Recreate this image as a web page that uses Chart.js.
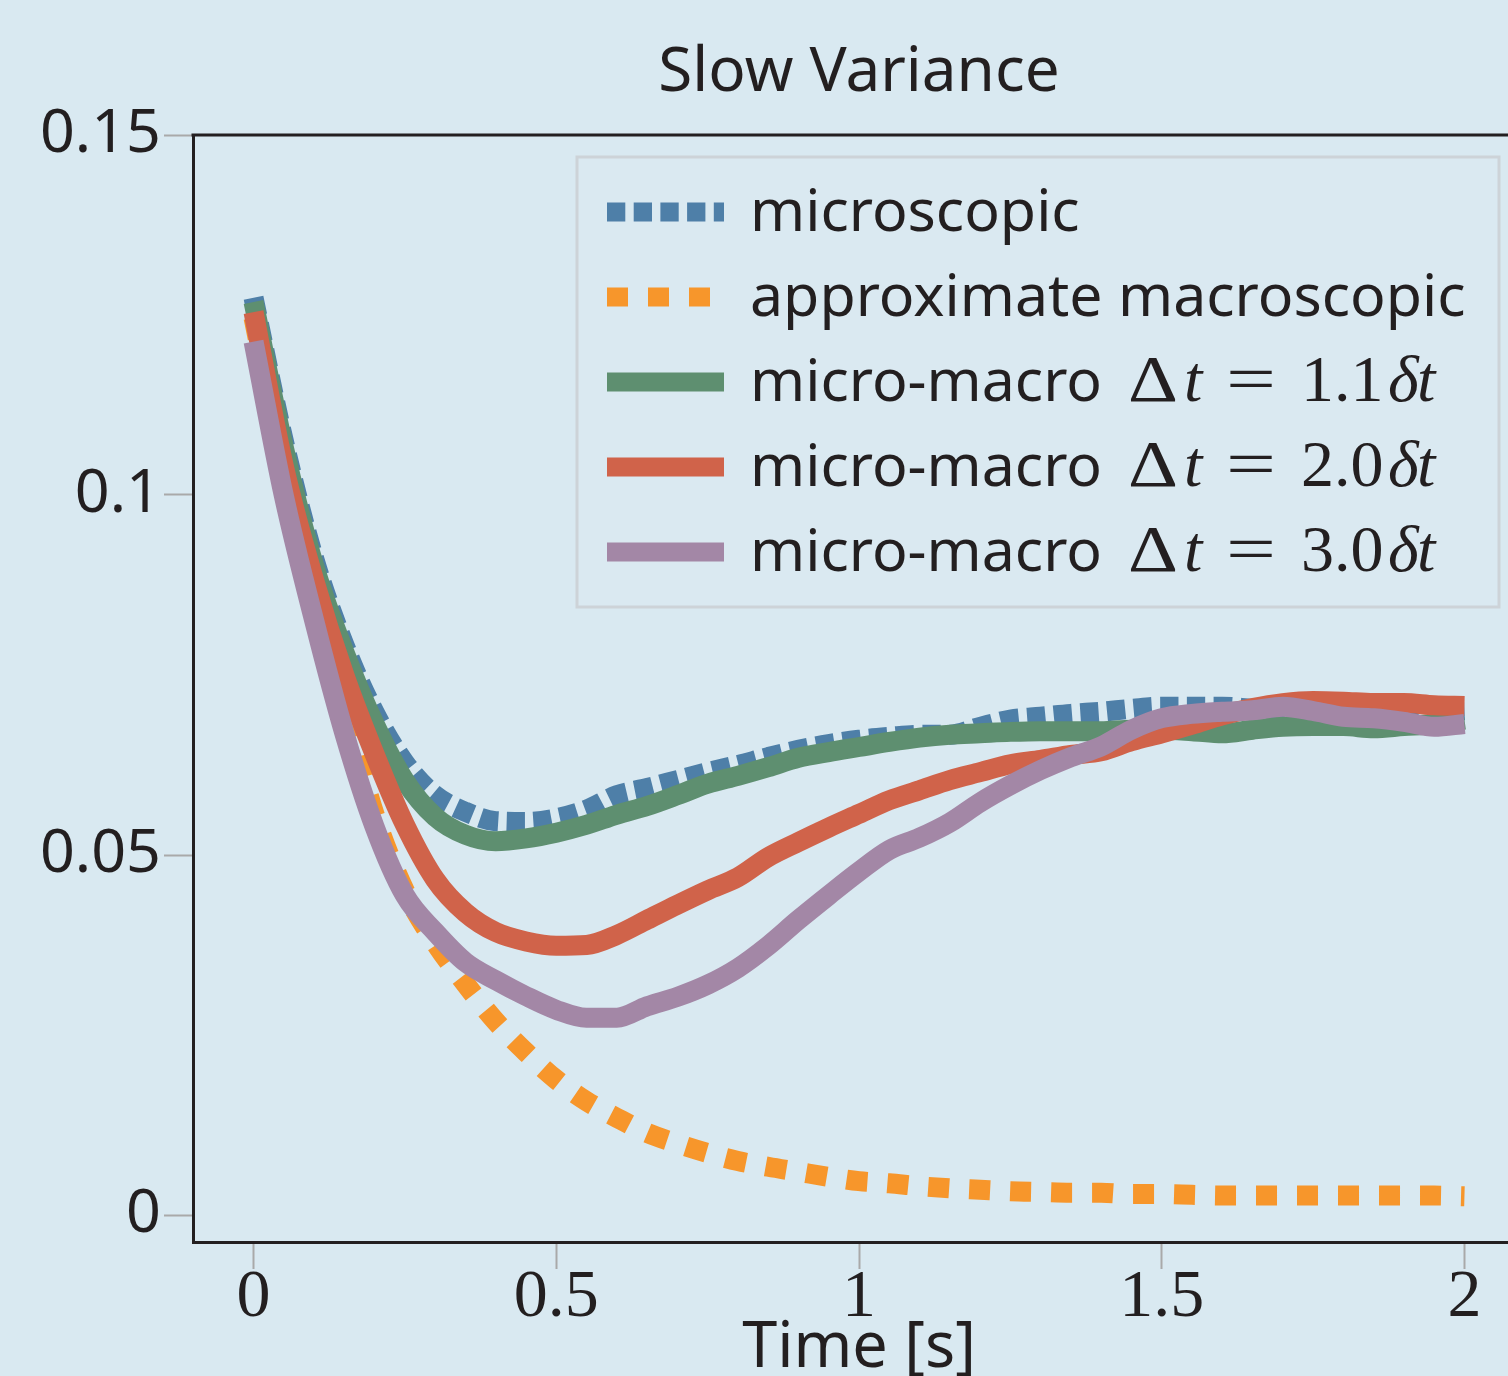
<!DOCTYPE html>
<html><head><meta charset="utf-8">
<script src="https://cdn.jsdelivr.net/npm/chart.js@4/dist/chart.umd.min.js"></script>
<style>
html,body{margin:0;padding:0;background:#d9e9f1;overflow:hidden;}
canvas{display:block;}
</style></head><body>
<canvas id="c" width="1530" height="1376"></canvas>
<script>
// ---- data ----
const times = [0,0.05,0.1,0.15,0.2,0.25,0.3,0.35,0.4,0.45,0.5,0.55,0.6,0.65,0.7,0.75,0.8,0.85,0.9,0.95,1.0,
               1.05,1.1,1.15,1.2,1.25,1.3,1.35,1.4,1.45,1.5,1.55,1.6,1.65,1.7,1.75,1.8,1.85,1.9,1.95,2.0];
const microscopic = [0.1274,0.1075,0.0912,0.0792,0.0698,0.0628,0.0583,0.0560,0.0547,0.0546,0.0551,0.0563,0.0583,0.0593,0.0604,0.0615,0.0625,0.0636,0.0646,0.0654,0.0660,
                     0.0664,0.0667,0.0667,0.0678,0.0688,0.0692,0.0696,0.0699,0.0703,0.0706,0.0706,0.0706,0.0703,0.0701,0.0700,0.0700,0.0699,0.0699,0.0699,0.0701];
const approxMacro = [0.1246,0.1040,0.0868,0.0708,0.0556,0.0450,0.0378,0.0321,0.0269,0.0226,0.0188,0.0158,0.0135,0.0114,0.0099,0.0086,0.0075,0.0067,0.0060,0.0053,0.0047,
                     0.0044,0.0040,0.0037,0.0035,0.0033,0.0032,0.0031,0.0031,0.0029,0.0029,0.0028,0.0027,0.0027,0.0027,0.0027,0.0027,0.0027,0.0027,0.0027,0.0026];
const microMacro11 = [0.1268,0.1066,0.0902,0.0782,0.0682,0.0603,0.0553,0.0528,0.0519,0.0523,0.0531,0.0542,0.0556,0.0568,0.0583,0.0599,0.0610,0.0622,0.0635,0.0643,0.0650,
                      0.0657,0.0663,0.0667,0.0669,0.0671,0.0672,0.0672,0.0672,0.0674,0.0674,0.0672,0.0669,0.0674,0.0678,0.0679,0.0679,0.0676,0.0679,0.0682,0.0688];
const microMacro20 = [0.1254,0.1040,0.0882,0.0750,0.0640,0.0542,0.0466,0.0420,0.0393,0.0380,0.0374,0.0375,0.0389,0.0410,0.0431,0.0451,0.0469,0.0497,0.0518,0.0538,0.0557,
                      0.0576,0.0590,0.0604,0.0615,0.0626,0.0632,0.0639,0.0644,0.0658,0.0669,0.0681,0.0694,0.0704,0.0711,0.0714,0.0713,0.0711,0.0711,0.0708,0.0707];
const microMacro30 = [0.1213,0.0999,0.0826,0.0669,0.0539,0.0444,0.0393,0.0351,0.0326,0.0304,0.0285,0.0274,0.0274,0.0290,0.0303,0.0320,0.0343,0.0374,0.0410,0.0444,0.0477,
                      0.0507,0.0524,0.0545,0.0573,0.0597,0.0618,0.0636,0.0651,0.0674,0.0690,0.0696,0.0699,0.0701,0.0706,0.0700,0.0692,0.0690,0.0685,0.0678,0.0682];
const seriesNames = ['microscopic','approximate macroscopic','micro-macro','micro-macro','micro-macro'];
const stepRatios = [null,null,'1.1','2.0','3.0'];
const chartTitle = 'Slow Variance';
const xTitle = 'Time [s]';
const xTicks = [0,0.5,1,1.5,2];
const xTickLabels = ['0','0.5','1','1.5','2'];
const yTicks = [0,0.05,0.1,0.15];
const yTickLabels = ['0','0.05','0.1','0.15'];

// ---- styles ----
const BG = '#d9e9f1';
const INK = '#231f20';
const SANS = '"Noto Sans", sans-serif';
const SERIF = '"Liberation Serif", serif';
const colors = ['#4e7fa8','#f7962b','#5e8f70','#d0634a','#a387a6'];
const dashes = [[18.3,8.4],[21,20],[],[],[]];
const drawOrder = [5,4,3,2,1];
const valueSets = [microscopic, approxMacro, microMacro11, microMacro20, microMacro30];

const datasets = valueSets.map((vals, i) => ({
  label: seriesNames[i],
  data: times.map((t, k) => ({x: t, y: vals[k]})),
  borderColor: colors[i],
  borderWidth: 20,
  borderDash: dashes[i],
  borderCapStyle: 'butt',
  borderJoinStyle: 'round',
  pointRadius: 0,
  cubicInterpolationMode: 'monotone',
  fill: false,
  order: drawOrder[i]
}));

const bgPlugin = {
  id: 'bg',
  beforeDraw(chart) {
    const c = chart.ctx;
    c.save(); c.fillStyle = BG; c.fillRect(0, 0, chart.width, chart.height); c.restore();
  }
};

const framePlugin = {
  id: 'frame',
  afterDraw(chart) {
    const c = chart.ctx, a = chart.chartArea;
    c.save();
    c.strokeStyle = INK; c.lineWidth = 3;
    c.beginPath(); c.moveTo(a.left - 1.5, a.top); c.lineTo(a.right, a.top); c.stroke();
    // title centred over the plot area
    c.fillStyle = INK; c.font = '62px ' + SANS; c.textAlign = 'center'; c.textBaseline = 'middle';
    c.fillText(chartTitle, (a.left + a.right) / 2, 73);
    c.restore();
  }
};

function scaledText(c, txt, x, y, targetW) {
  const w = c.measureText(txt).width;
  c.save(); c.translate(x, y); c.scale(targetW / w, 1); c.fillText(txt, 0, 0); c.restore();
}

const legendPlugin = {
  id: 'boxLegend',
  afterDraw(chart) {
    const c = chart.ctx, a = chart.chartArea;
    const L = a.left + 384, T = a.top + 22, W = 922, H = 450;
    c.save();
    c.fillStyle = 'rgba(217,233,241,0.85)';
    c.fillRect(L, T, W, H);
    c.strokeStyle = '#cdd3d8'; c.lineWidth = 3;
    c.strokeRect(L, T, W, H);
    chart.data.datasets.forEach((ds, i) => {
      const y = T + 55 + i * 85;
      c.beginPath();
      c.setLineDash(ds.borderDash || []);
      c.lineDashOffset = 0;
      c.strokeStyle = ds.borderColor; c.lineWidth = 19; c.lineCap = 'butt';
      c.moveTo(L + 30, y); c.lineTo(L + 147, y); c.stroke();
      c.setLineDash([]);
      c.fillStyle = INK; c.textBaseline = 'alphabetic'; c.textAlign = 'left';
      c.font = '59px ' + SANS;
      const tx = L + 173, by = y + 19;
      c.fillText(ds.label, tx, by);
      if (stepRatios[i]) {
        c.font = '66px ' + SERIF;
        scaledText(c, '\u0394', tx + 378, by, 50);
        c.font = 'italic 66px ' + SERIF;
        c.fillText('t', tx + 434, by);
        c.font = '66px ' + SERIF;
        scaledText(c, '=', tx + 476, by, 50);
        c.fillText(stepRatios[i], tx + 551, by);
        c.font = 'italic 66px ' + SERIF;
        c.fillText('\u03b4', tx + 638, by);
        c.fillText('t', tx + 667, by);
      }
    });
    c.restore();
  }
};

new Chart(document.getElementById('c'), {
  type: 'line',
  data: { datasets },
  plugins: [bgPlugin, framePlugin, legendPlugin],
  options: {
    responsive: false,
    animation: false,
    devicePixelRatio: 1,
    layout: { padding: { left: 0, right: 5, top: 135, bottom: 0 } },
    plugins: {
      legend: { display: false },
      tooltip: { enabled: false },
      title: { display: false }
    },
    scales: {
      x: {
        type: 'linear', min: -0.1, max: 2.1,
        afterBuildTicks: s => { s.ticks = xTicks.map(v => ({ value: v })); },
        afterFit: s => { s.height = 134; },
        ticks: {
          callback: v => { const k = xTicks.indexOf(v); return k >= 0 ? xTickLabels[k] : ''; },
          font: { family: SERIF, size: 68 }, color: INK, padding: -12, maxRotation: 0, autoSkip: false
        },
        grid: { drawOnChartArea: false, drawTicks: true, tickLength: 27, tickColor: '#a9a9a9', tickWidth: 2 },
        border: { display: true, color: INK, width: 3 },
        title: { display: true, text: xTitle, color: INK, font: { family: SANS, size: 63 }, padding: { top: 0, bottom: -11 } }
      },
      y: {
        type: 'linear', min: -0.00375, max: 0.15,
        afterBuildTicks: s => { s.ticks = yTicks.map(v => ({ value: v })); },
        afterFit: s => { s.width = 193; },
        ticks: {
          callback: v => { const k = yTicks.indexOf(v); return k >= 0 ? yTickLabels[k] : ''; },
          font: { family: SANS, size: 61 }, color: INK, padding: 3, autoSkip: false
        },
        grid: { drawOnChartArea: false, drawTicks: true, tickLength: 29, tickColor: '#a9a9a9', tickWidth: 2 },
        border: { display: true, color: INK, width: 3 }
      }
    }
  }
});
</script>
</body></html>
